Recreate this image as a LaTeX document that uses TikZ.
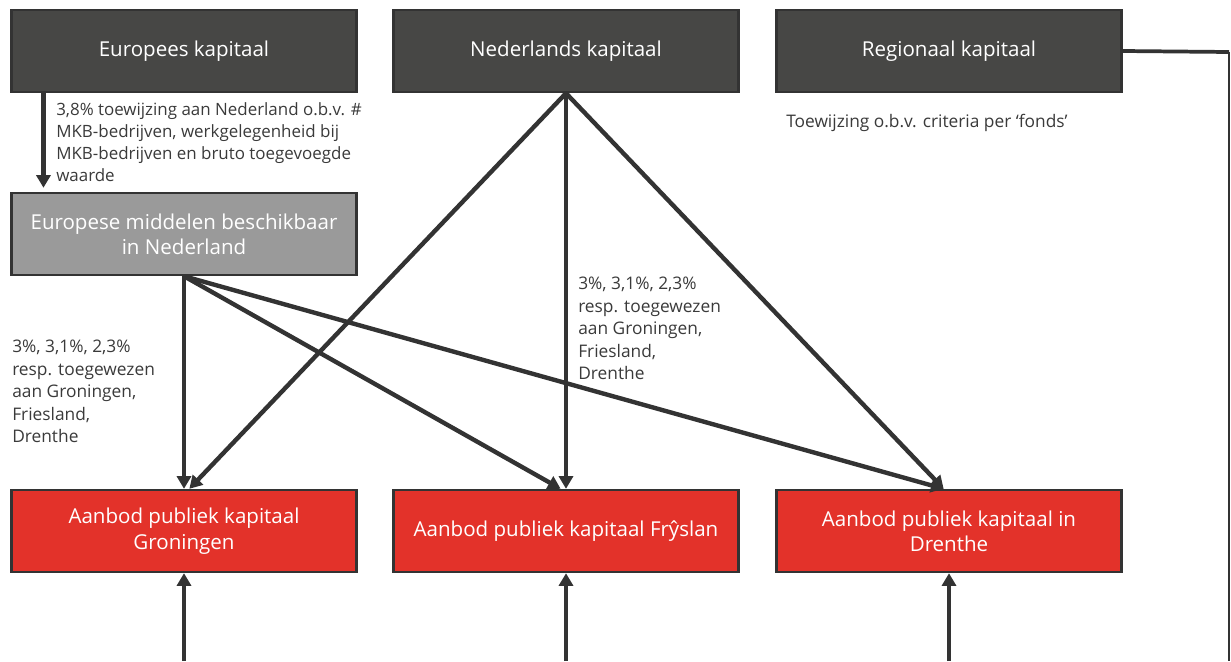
\documentclass[tikz,border=0pt]{standalone}
\usepackage{fontspec}
\setmainfont{Open Sans}
\usetikzlibrary{arrows.meta}
\definecolor{darkbox}{HTML}{474745}
\definecolor{edge}{HTML}{333333}
\definecolor{midbox}{HTML}{9A9A9A}
\definecolor{redbox}{HTML}{E3322A}
\definecolor{txt}{HTML}{3A3A3A}
\begin{document}
\begin{tikzpicture}[x=0.75pt,y=-0.75pt,
  box/.style={draw=edge,line width=1.8pt,minimum width=259pt,minimum height=61.5pt,
    text=white,align=center,inner sep=2pt,font=\fontsize{15.4}{19}\selectfont},
  dark/.style={box,fill=darkbox},
  mid/.style={box,fill=midbox},
  red/.style={box,fill=redbox},
  lbl/.style={anchor=north west,inner sep=0pt,align=left,text=txt,
    font=\fontsize{13}{16.8}\selectfont},
  arr/.style={draw=edge,line width=3.3pt,-{Triangle[length=9.5pt,width=10.5pt]}},
  ln/.style={draw=edge,line width=2.8pt}]
\useasboundingbox (0,0) rectangle (1231,661);
\node[dark] (eu) at (184,51) {Europees kapitaal};
\node[dark] (nl) at (566,51) {Nederlands kapitaal};
\node[dark] (reg) at (949,51) {Regionaal kapitaal};
\node[mid] (mid) at (184,234) {Europese middelen beschikbaar\\in Nederland};
\node[red] (gr) at (184,531) {Aanbod publiek kapitaal\\Groningen};
\node[red] (fr) at (566,531) {Aanbod publiek kapitaal Frŷslan};
\node[red] (dr) at (949,531) {Aanbod publiek kapitaal in\\Drenthe};

\node[lbl,font=\fontsize{12.7}{16.6}\selectfont] (l1) at (56,102) {3,8\% toewijzing aan Nederland o.b.v. \#\\MKB-bedrijven, werkgelegenheid bij\\MKB-bedrijven en bruto toegevoegde\\waarde};
\node[lbl] (l2) at (12,340) {3\%, 3,1\%, 2,3\%\\resp. toegewezen\\aan Groningen,\\Friesland,\\Drenthe};
\node[lbl] (l3) at (578,277) {3\%, 3,1\%, 2,3\%\\resp. toegewezen\\aan Groningen,\\Friesland,\\Drenthe};
\node[lbl] (l4) at (786,114) {Toewijzing o.b.v. criteria per ‘fonds’};

\draw[arr] ([xshift=25pt]eu.south west) -- ([xshift=25pt,yshift=3pt]mid.north west);
\draw[arr] (mid.south) -- (gr.north);
\draw[arr] (mid.south) -- ([xshift=-4pt]fr.north);
\draw[arr] (mid.south) -- ([xshift=-4pt]dr.north);
\draw[arr] (nl.south) -- ([xshift=4pt]gr.north);
\draw[arr] (nl.south) -- (fr.north);
\draw[arr] (nl.south) -- ([xshift=-4pt]dr.north);

\coordinate (rc) at (1229,52);
\coordinate (rb) at (1229,661);
\draw[ln] (reg.east) -- (rc);
\draw[draw=edge,line width=1.5pt] (rc) -- (rb);

\coordinate (gb) at (184,661);
\coordinate (fb) at (566,661);
\coordinate (db) at (949,661);
\draw[arr] (gb) -- (gr.south);
\draw[arr] (fb) -- (fr.south);
\draw[arr] (db) -- (dr.south);
\end{tikzpicture}
\end{document}
